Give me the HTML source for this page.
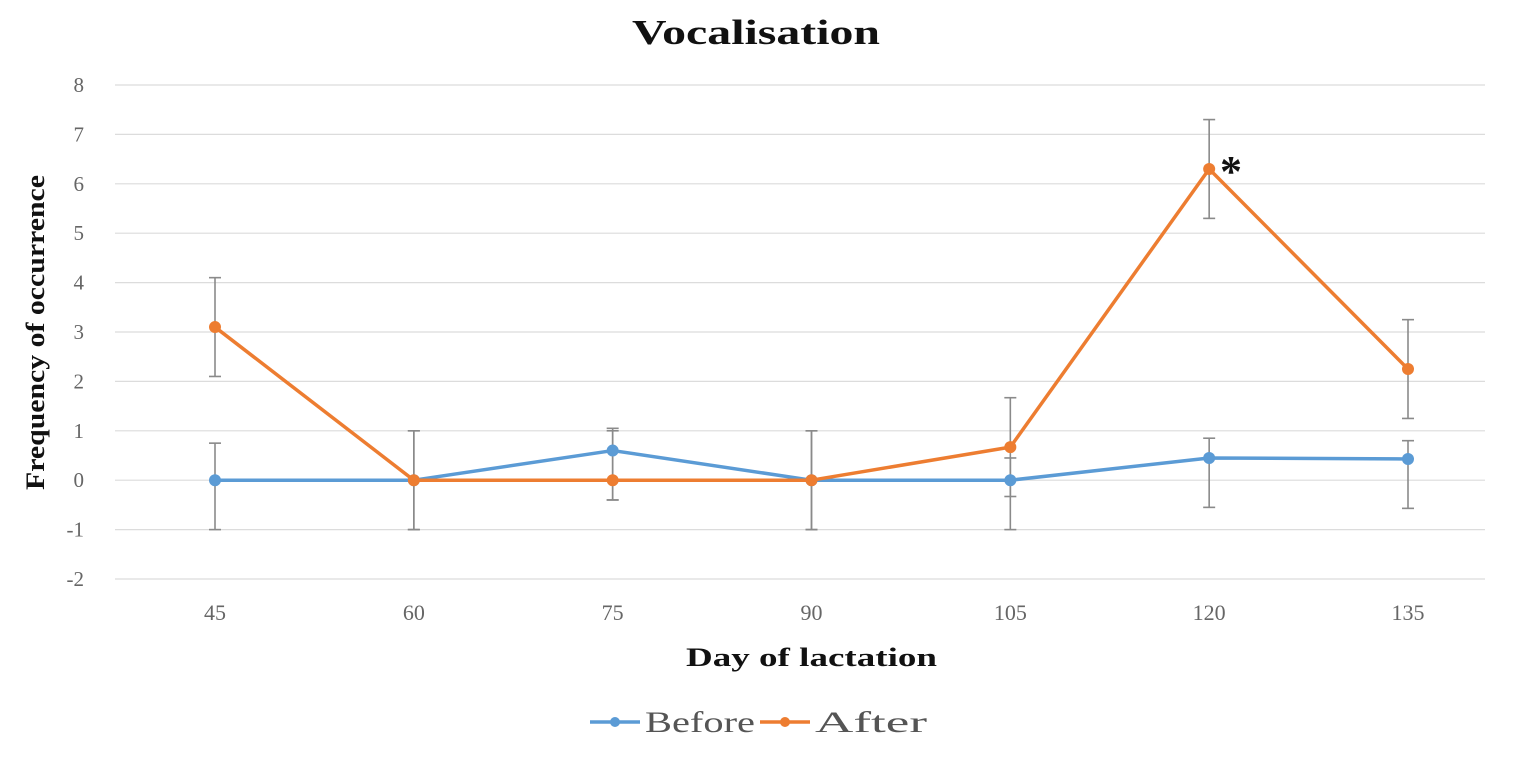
<!DOCTYPE html>
<html><head><meta charset="utf-8"><style>
html,body{margin:0;padding:0;background:#fff;}
svg{display:block;}
</style></head><body>
<svg id="chart" width="1536" height="758" viewBox="0 0 1536 758" font-family="'Liberation Serif', serif">
<text x="632" y="44" textLength="248" lengthAdjust="spacingAndGlyphs" font-size="35" font-weight="bold" fill="#111">Vocalisation</text>
<g id="grid"></g><g id="axes"></g><g id="err"></g><g id="series"></g>
<text x="1220" y="186" font-size="44" font-weight="bold" fill="#111">*</text>
<text transform="translate(44,490) rotate(-90)" textLength="315" lengthAdjust="spacingAndGlyphs" font-size="26" font-weight="bold" fill="#111">Frequency of occurrence</text>
<text x="686" y="666" textLength="251" lengthAdjust="spacingAndGlyphs" font-size="26" font-weight="bold" fill="#111">Day of lactation</text>
<g>
<g><line x1="590" y1="722" x2="640" y2="722" stroke="#5b9bd5" stroke-width="3.5"/><circle cx="615" cy="722" r="5" fill="#5b9bd5"/><text x="645" y="732" textLength="110" lengthAdjust="spacingAndGlyphs" font-size="30" fill="#555">Before</text></g>
<g><line x1="760" y1="722" x2="810" y2="722" stroke="#ed7d31" stroke-width="3.5"/><circle cx="785" cy="722" r="5" fill="#ed7d31"/><text x="815" y="732" textLength="112" lengthAdjust="spacingAndGlyphs" font-size="30" fill="#555">After</text></g>
</g>
</svg>
<script>
const categories=[45,60,75,90,105,120,135];
const yTicks=[-2,-1,0,1,2,3,4,5,6,7,8];
const beforeVals=[0,0,0.6,0,0,0.45,0.43];
const beforeUp=[0.75,1,0.45,1,0.45,0.4,0.37];
const beforeDown=[1,1,1,1,1,1,1];
const afterVals=[3.1,0,0,0,0.67,6.3,2.25];
const afterUp=[1,1,1,1,1,1,1];
const afterDown=[1,1,0.4,1,1,1,1];
const NS="http://www.w3.org/2000/svg";
const x0=115,x1=1485,yTop=85,yBot=579;
function xs(i){return 215+i*(1408-215)/(categories.length-1);}
function ys(v){return yBot-(v-(-2))*(yBot-yTop)/10;}
function mk(tag,attrs,parent){const e=document.createElementNS(NS,tag);for(const k in attrs)e.setAttribute(k,attrs[k]);document.getElementById(parent).appendChild(e);return e;}
yTicks.forEach(t=>{
 const l=mk('line',{x1:x0,x2:x1,y1:ys(t),y2:ys(t),stroke:'#dcdcdc','stroke-width':1.2},'grid');
 
 
 const tx=mk('text',{x:84,y:ys(t)+7,'text-anchor':'end','font-size':21,fill:'#666'},'axes');
 tx.textContent=t;
 
 
});
categories.forEach((c,i)=>{
 const tx=mk('text',{x:xs(i),y:620,'text-anchor':'middle','font-size':22,fill:'#666'},'axes');
 tx.textContent=c;
 
 
});
function series(vals,up,down,color,name){
 vals.forEach((v,i)=>{
  const x=xs(i),a=ys(v+up[i]),b=ys(v-down[i]);
  const g=mk('g',{stroke:'#8a8a8a','stroke-width':1.6},'err');
  
  
  [['line',{x1:x,x2:x,y1:a,y2:b}],['line',{x1:x-6,x2:x+6,y1:a,y2:a}],['line',{x1:x-6,x2:x+6,y1:b,y2:b}]].forEach(([t,at])=>{const e=document.createElementNS(NS,t);for(const k in at)e.setAttribute(k,at[k]);g.appendChild(e);});
 });
 const p=mk('polyline',{points:vals.map((v,i)=>xs(i)+','+ys(v)).join(' '),fill:'none',stroke:color,'stroke-width':3.5,'stroke-linejoin':'round'},'series');
 
 
 vals.forEach((v,i)=>{
  const c=mk('circle',{cx:xs(i),cy:ys(v),r:6,fill:color},'series');
  
  
 });
}
series(beforeVals,beforeUp,beforeDown,'#5b9bd5','before');
series(afterVals,afterUp,afterDown,'#ed7d31','after');
</script>
</body></html>
